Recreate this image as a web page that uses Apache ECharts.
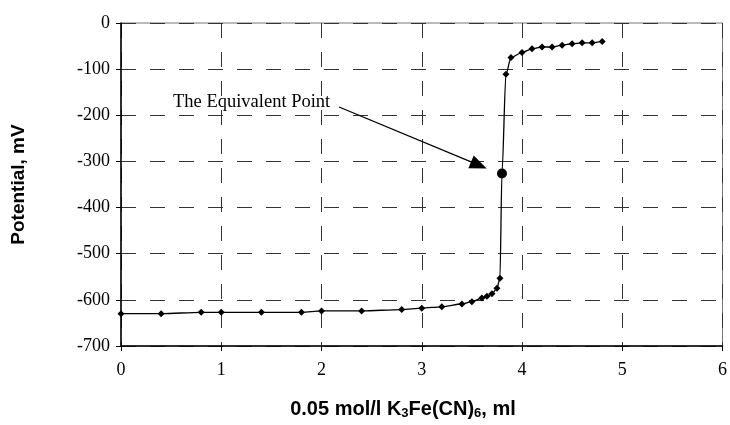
<!DOCTYPE html>
<html>
<head>
<meta charset="utf-8">
<script src="https://cdn.jsdelivr.net/npm/echarts/dist/echarts.min.js"></script>
<style>html,body{margin:0;padding:0;background:#fff}#c{width:730px;height:425px}</style>
</head>
<body>
<div id="c"></div>
<script>
var volume = [0, 0.4, 0.8, 1.0, 1.4, 1.8, 2.0, 2.4, 2.8, 3.0, 3.2, 3.4, 3.5, 3.6, 3.65, 3.7, 3.75, 3.78, 3.8, 3.84, 3.89, 4.0, 4.1, 4.2, 4.3, 4.4, 4.5, 4.6, 4.7, 4.8];
var potential = [-630, -630, -627, -627, -627, -627, -624, -624, -621, -618, -615, -609, -604, -596, -592, -587, -575, -553, -326, -111, -75, -64, -56, -52, -52, -48, -45, -43, -43, -40];
var equivalentIndex = 18;
var annotationText = 'The Equivalent Point';
var arrowFrom = [2.175, -182];
var arrowTo = [3.57, -308];
var xTitle = '0.05 mol/l K{s|3}Fe(CN){s|6}, ml';
var yTitle = 'Potential, mV';

var chart = echarts.init(document.getElementById('c'));
var data = volume.map(function (v, i) {
  var item = { value: [v, potential[i]] };
  if (i === equivalentIndex) { item.symbol = 'circle'; item.symbolSize = 10; }
  return item;
});
var serif = '"Liberation Serif", "Times New Roman", serif';
var sans = '"Liberation Sans", Arial, sans-serif';
var split = { show: true, lineStyle: { color: '#333', type: [15, 14], width: 1 } };
chart.setOption({
  animation: false,
  grid: { left: 121, right: 5, top: 23, bottom: 79, show: true, borderColor: '#777', borderWidth: 1, backgroundColor: 'transparent' },
  xAxis: {
    type: 'value', min: 0, max: 6, interval: 1,
    axisLine: { onZero: false, lineStyle: { color: '#000', width: 1.5 } },
    axisTick: { show: true, length: 5, lineStyle: { color: '#000' } },
    axisLabel: { fontFamily: serif, fontSize: 18, color: '#000', margin: 15 },
    splitLine: split
  },
  yAxis: {
    type: 'value', min: -700, max: 0, interval: 100,
    axisLine: { show: true, onZero: false, lineStyle: { color: '#000', width: 1.5 } },
    axisTick: { show: true, length: 5, lineStyle: { color: '#000' } },
    axisLabel: { fontFamily: serif, fontSize: 18, color: '#000', margin: 11 },
    splitLine: split,
    name: yTitle, nameLocation: 'middle', nameGap: 93, nameRotate: 90,
    nameTextStyle: { fontFamily: sans, fontWeight: 'bold', fontSize: 19, color: '#000' }
  },
  series: [{
    type: 'line', data: data, smooth: 0.3, smoothMonotone: 'x',
    symbol: 'diamond', symbolSize: 7,
    lineStyle: { color: '#000', width: 1.3 },
    itemStyle: { color: '#000' },
    markLine: {
      silent: true, symbol: ['none', 'triangle'], symbolSize: [14, 17],
      label: { show: false },
      lineStyle: { color: '#000', type: 'solid', width: 1.3 },
      itemStyle: { color: '#000' },
      data: [[{ coord: arrowFrom }, { coord: arrowTo }]]
    }
  }],
  graphic: [{
    type: 'text', left: 173, top: 93,
    style: { text: annotationText, font: '18.5px ' + serif, fill: '#000' }
  }, {
    type: 'text', x: 403, y: 409,
    style: {
      text: xTitle, fontFamily: sans, fontWeight: 'bold', fontSize: 20, fill: '#000',
      align: 'center', verticalAlign: 'middle',
      rich: { s: { fontFamily: sans, fontWeight: 'bold', fontSize: 13, fill: '#000', padding: [9, 0, 0, 0] } }
    }
  }]
});
</script>
</body>
</html>
